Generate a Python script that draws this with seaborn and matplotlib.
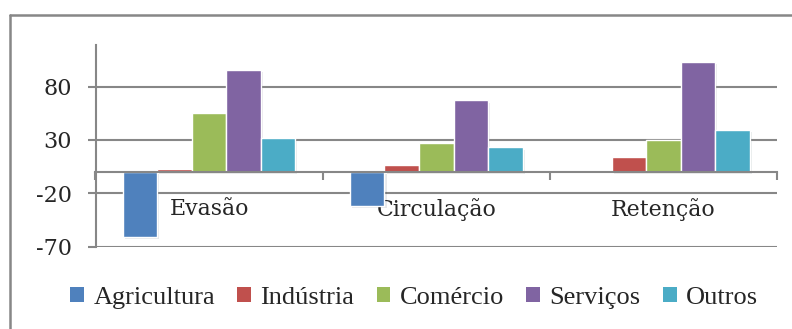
import numpy as np
import pandas as pd
import seaborn as sns
import matplotlib.pyplot as plt
from matplotlib import patheffects
from matplotlib.lines import Line2D
from matplotlib.font_manager import FontProperties

# data
categorias = ['Evasão', 'Circulação', 'Retenção']
setores = ['Agricultura', 'Indústria', 'Comércio', 'Serviços', 'Outros']
agricultura = [-61, -32, 0]
industria = [2.5, 7, 14]
comercio = [55, 27, 30]
servicos = [96, 67, 103]
outros = [32, 23, 39]
y_ticks = [-70, -20, 30, 80]
cores = ['#4F81BD', '#C0504D', '#9BBB59', '#8064A2', '#4BACC6']

valores = [agricultura, industria, comercio, servicos, outros]
df = pd.DataFrame({
    'categoria': categorias * len(setores),
    'setor': [s for s in setores for _ in categorias],
    'valor': [v for serie in valores for v in serie],
})

sns.set_style('white')
plt.rcParams['font.family'] = ['DejaVu Serif']
plt.rcParams['axes.unicode_minus'] = False

fig = plt.figure(figsize=(7.92, 3.29), dpi=100)
ax = fig.add_axes([95.5 / 792, 1 - 246.7 / 329, (777 - 95.5) / 792, (246.7 - 45) / 329])

sns.barplot(data=df, x='categoria', y='valor', hue='setor', order=categorias,
            hue_order=setores, palette=cores, saturation=1, width=0.76,
            edgecolor='white', linewidth=1.0, legend=False, ax=ax, zorder=3)

for p in ax.patches:
    p.set_path_effects([patheffects.SimplePatchShadow(offset=(1.5, -1.5), alpha=0.1),
                        patheffects.Normal()])

grid_color = '#878787'
ax.set_ylim(-70, 119)
ax.set_xlim(-0.5, 2.5)
ax.set_yticks(y_ticks)
ax.yaxis.grid(True, color=grid_color, linewidth=1.5, zorder=0)
ax.set_axisbelow(True)
ax.tick_params(axis='y', length=6, width=1.5, color=grid_color, labelsize=16,
               pad=11, left=True)

# category axis crossing at zero
ax.spines['bottom'].set_position(('data', 0))
ax.spines['bottom'].set_color(grid_color)
ax.spines['bottom'].set_linewidth(1.5)
ax.spines['bottom'].set_zorder(4)
ax.spines['left'].set_color(grid_color)
ax.spines['left'].set_linewidth(1.5)
ax.spines['top'].set_visible(False)
ax.spines['right'].set_visible(False)
ax.set_xticks([0, 1, 2])
ax.set_xticklabels(categorias)
ax.set_xticks([-0.5, 0.5, 1.5, 2.5], minor=True)
ax.tick_params(axis='x', which='major', length=0, labelsize=15.8, pad=19)
ax.tick_params(axis='x', which='minor', length=6, width=1.5, color=grid_color,
               bottom=True, direction='out')
for lbl in ax.get_xticklabels():
    lbl.set_zorder(5)
ax.set_xlabel('')
ax.set_ylabel('')

handles = [plt.Rectangle((0, 0), 1, 1, facecolor=c, edgecolor='none') for c in cores]
leg_font = FontProperties(family='Liberation Serif', size=19)
fig.legend(handles, setores, loc='center', bbox_to_anchor=(0.523, 1 - 298 / 329),
           ncol=5, frameon=False, prop=leg_font, handlelength=0.52,
           handleheight=0.52, handletextpad=0.35, columnspacing=0.85)

# chart frame
fig.add_artist(Line2D([9.5 / 792, 9.5 / 792], [0, 1 - 15 / 329], color=grid_color,
                      linewidth=1.8, transform=fig.transFigure))
fig.add_artist(Line2D([9.5 / 792, 1], [1 - 15 / 329, 1 - 15 / 329], color=grid_color,
                      linewidth=1.8, transform=fig.transFigure))

fig.savefig('out.png', dpi=100)
